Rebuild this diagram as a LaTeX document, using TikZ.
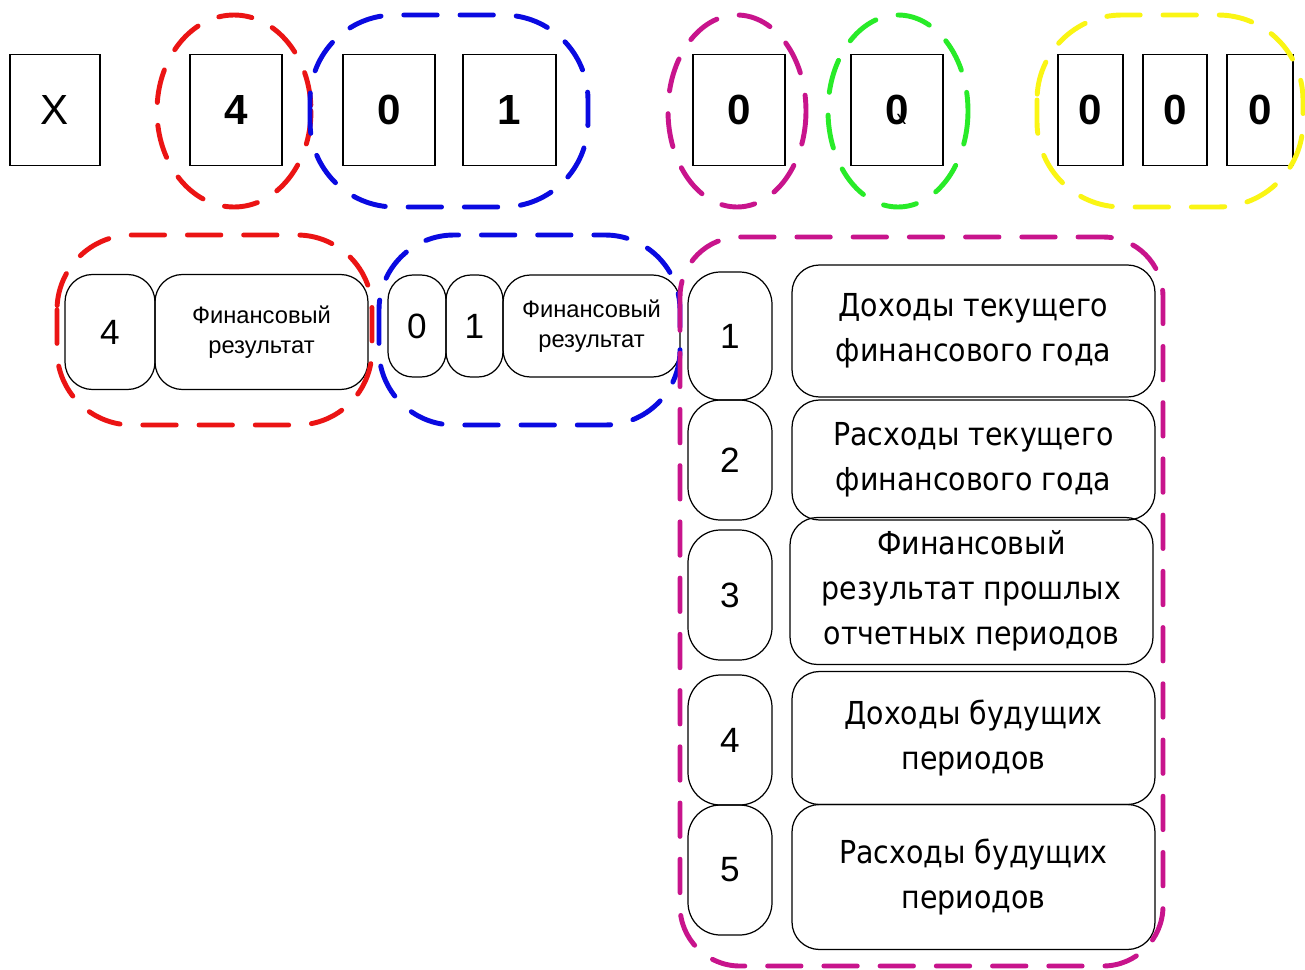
\documentclass[tikz,border=0pt]{standalone}
\usepackage{fontspec}
\setmainfont{Liberation Sans}
\newfontfamily\tah{DejaVu Sans Condensed}
\definecolor{dred}{RGB}{235,20,20}
\definecolor{dblue}{RGB}{10,10,225}
\definecolor{dmag}{RGB}{200,20,140}
\definecolor{dgreen}{RGB}{40,235,40}
\definecolor{dyel}{RGB}{250,245,20}
\begin{document}
\begin{tikzpicture}[x=0.02cm,y=-0.02cm,
 sz/.style 2 args={minimum width=#1*0.02cm, minimum height=#2*0.02cm},
 digit/.style={draw=black, line width=0.8pt, inner sep=0pt, font=\fontsize{24}{28}\selectfont\bfseries},
 rbox/.style={draw=black, line width=0.7pt, rounded corners=0.55cm, inner sep=0pt, align=center},
 num/.style={rbox, font=\fontsize{20}{24}\selectfont},
 small/.style={rbox, font=\fontsize{13.5}{17}\selectfont},
 big/.style={rbox, font=\tah\fontsize{18}{25.5}\selectfont},
 grp/.style={line width=2.8pt, dash pattern=on 19pt off 13pt, line cap=round}
]
\fill[white] (0,0) rectangle (1305,970);
\useasboundingbox (0,0) rectangle (1305,970);

% top row
\node[digit, sz={90}{111}, font=\fontsize{24}{28}\selectfont] (tx) at (55,110) {X};
\node[digit, sz={92}{111}] (t4) at (236,110) {4};
\node[digit, sz={92}{111}] (t0a) at (389,110) {0};
\node[digit, sz={93}{111}] (t1) at (509.5,110) {1};
\node[digit, sz={92}{111}] (t0b) at (739,110) {0};
\node[digit, sz={92}{111}] (t0c) at (897,110) {\makebox[0pt]{0}\makebox[0pt]{\hspace{5pt}\fontsize{11}{11}\selectfont\mdseries x}};
\node[digit, sz={65}{111}] (y1) at (1090.5,110) {0};
\node[digit, sz={64}{111}] (y2) at (1175,110) {0};
\node[digit, sz={66}{111}] (y3) at (1260,110) {0};

% second row, red group
\node[num, sz={90}{115}] (r4) at (110,332) {4};
\node[small, sz={213}{115}] (rfr) at (261.5,332) {Финансовый\\результат};
% blue group
\node[num, sz={58}{102}, rounded corners=0.5cm] (b0) at (417,326) {0};
\node[num, sz={57}{102}, rounded corners=0.5cm] (b1) at (474.5,326) {1};
\node[small, sz={177}{102}] (bfr) at (591.5,326) {Финансовый\\результат};

% right column
\node[num, sz={84}{128}, rounded corners=0.65cm] (n1) at (730,336) {1};
\node[num, sz={84}{120}, rounded corners=0.65cm] (n2) at (730,460) {2};
\node[num, sz={84}{130}, rounded corners=0.65cm] (n3) at (730,595) {3};
\node[num, sz={84}{130}, rounded corners=0.65cm] (n4) at (730,740) {4};
\node[num, sz={84}{130}, rounded corners=0.65cm] (n5) at (730,870) {5};

\node[big, sz={363}{132}] (d1) at (973.5,331) {Доходы текущего\\финансового года};
\node[big, sz={363}{120}] (d2) at (973.5,460) {Расходы текущего\\финансового года};
\node[big, sz={363}{147}] (d3) at (971.5,591) {Финансовый\\результат прошлых\\отчетных периодов};
\node[big, sz={363}{133}] (d4) at (973.5,738) {Доходы будущих\\периодов};
\node[big, sz={363}{145}] (d5) at (973.5,877) {Расходы будущих\\периодов};

% dashed groups
\draw[grp, dred] (234,111) ellipse [x radius=77, y radius=96];
\draw[grp, dblue, rounded corners=1.7cm] (310,15) rectangle (588,207);
\draw[grp, dmag] (737,111) ellipse [x radius=69, y radius=96];
\draw[grp, dgreen] (898,111) ellipse [x radius=70, y radius=96];
\draw[grp, dyel, rounded corners=1.7cm] (1037,15) rectangle (1303,207);

\draw[grp, dred, rounded corners=1.5cm] (57,235) rectangle (372,425);
\draw[grp, dblue, rounded corners=1.5cm] (379,235) rectangle (680,425);
\draw[grp, dmag, rounded corners=1.2cm] (680,237) rectangle (1163,966);
\end{tikzpicture}
\end{document}
